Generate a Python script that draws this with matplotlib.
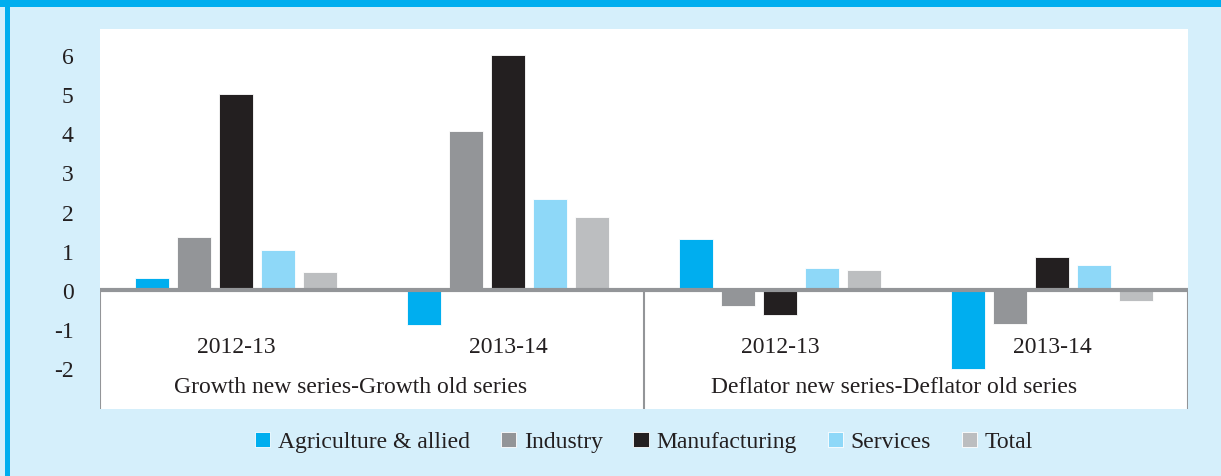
import numpy as np
import matplotlib
matplotlib.use("Agg")
from matplotlib import pyplot as plt
from matplotlib.patches import Rectangle

plt.rcParams['font.family'] = ['Liberation Serif', 'DejaVu Serif']
plt.rcParams['axes.unicode_minus'] = False

years = ['2012-13', '2013-14', '2012-13', '2013-14']
panels = ['Growth new series-Growth old series', 'Deflator new series-Deflator old series']
series = ['Agriculture & allied', 'Industry', 'Manufacturing', 'Services', 'Total']
colors = ['#00aeef', '#939598', '#231f20', '#8ed8f8', '#bcbec0']

agri = [0.30, -0.90, 1.30, -2.03]
industry = [1.35, 4.06, -0.42, -0.88]
manuf = [5.00, 6.00, -0.63, 0.85]
services = [1.02, 2.31, 0.55, 0.64]
total = [0.46, 1.85, 0.50, -0.28]
values = [agri, industry, manuf, services, total]
yticks = [-2, -1, 0, 1, 2, 3, 4, 5, 6]

bg = '#d5effb'
W, H = 1221, 477
fig = plt.figure(figsize=(W / 100, H / 100), dpi=100, facecolor=bg)

# frame decorations
fig.add_artist(Rectangle((0, 1 - 8 / H), 1, 8 / H, transform=fig.transFigure,
                         color='#00aeef', lw=0))
fig.add_artist(Rectangle((5 / W, 0), 5 / W, 1, transform=fig.transFigure,
                         color='#00aeef', lw=0))

ax = fig.add_axes([100 / W, (H - 410) / H, 1088 / W, 380 / H])
ax.set_facecolor('white')

x = np.arange(len(years))
step = 0.155
width = 0.125
for i, (name, vals, c) in enumerate(zip(series, values, colors)):
    ax.bar(x + (i - 2) * step, vals, width, color=c, edgecolor='white',
           linewidth=0.6, label=name, zorder=2)

ymin, ymax = -3.04, 6.66
ax.set_ylim(ymin, ymax)
ax.set_xlim(-0.5, len(years) - 0.5)

ax.axhline(0, color='#939598', lw=3, zorder=3)
frac0 = (0 - ymin) / (ymax - ymin)
for xs in [-0.5, 1.5, 3.5]:
    ax.axvline(xs, ymin=0, ymax=frac0, color='#939598', lw=1.5, zorder=3)

for s in ax.spines.values():
    s.set_visible(False)

ax.set_xticks([])
ax.set_yticks(yticks)
ax.set_yticklabels([str(v) for v in yticks])
ax.tick_params(axis='y', length=0, pad=19, labelsize=17, labelcolor='#231f20')

for xi, lab in zip(x, years):
    ax.text(xi, -1.45, lab, ha='center', va='center', fontsize=17, color='#231f20')
for k, lab in enumerate(panels):
    ax.text(2 * k + 0.42, -2.47, lab, ha='center', va='center', fontsize=17,
            color='#231f20')

fig.legend(loc='center', bbox_to_anchor=(644 / W, 34 / H), ncol=5, frameon=False,
           fontsize=17, handlelength=0.64, handleheight=0.6, handletextpad=0.34,
           columnspacing=1.3, labelcolor='#231f20')

fig.savefig('out.png', dpi=100, facecolor=bg)
